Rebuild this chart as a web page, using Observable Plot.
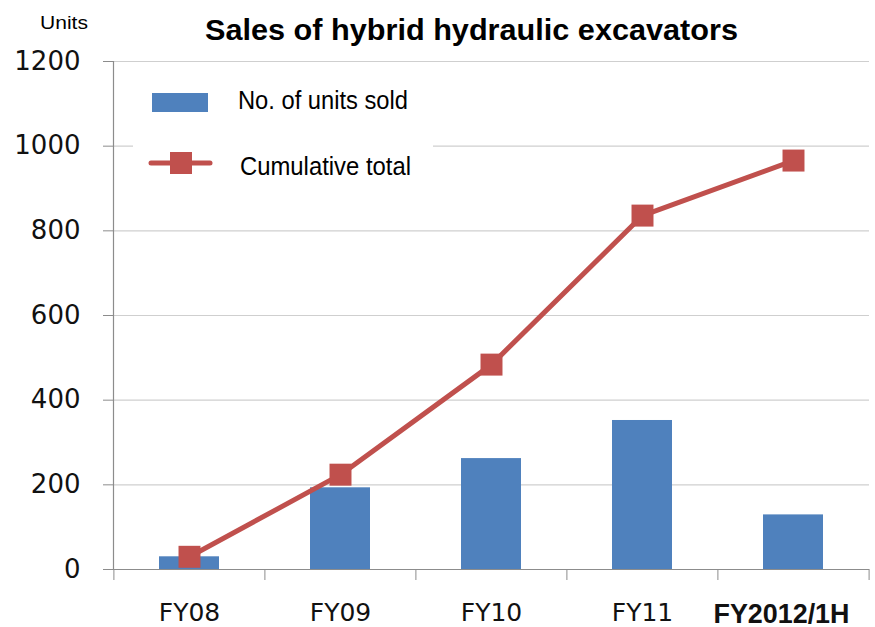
<!DOCTYPE html>
<html>
<head>
<meta charset="utf-8">
<script src="https://cdn.jsdelivr.net/npm/d3@7"></script>
<script src="https://cdn.jsdelivr.net/npm/@observablehq/plot@0.6"></script>
<style>
  html, body { margin: 0; padding: 0; background: #fff; }
  #chart { position: relative; width: 875px; height: 627px; }
</style>
</head>
<body>
<div id="chart"></div>
<script>
// ---- data ----
const categories = ["FY08", "FY09", "FY10", "FY11", "FY2012/1H"];
const unitsSold = [30, 193, 262, 352, 129];
const cumulativeTotal = [30, 224, 484, 836, 966];
const yTicks = [0, 200, 400, 600, 800, 1000, 1200];
const titleText = "Sales of hybrid hydraulic excavators";
const unitLabel = "Units";
const seriesNames = ["No. of units sold", "Cumulative total"];

const barColor = "#4F81BD";
const lineColor = "#C0504D";
const narrow = "'Liberation Sans Narrow', 'Liberation Sans', Arial, sans-serif";

const rows = categories.map((c, i) => ({cat: c, units: unitsSold[i], cum: cumulativeTotal[i]}));

const W = 875, H = 627, mL = 113, mR = 6, mT = 61, mB = 58;
const step = (W - mL - mR) / categories.length;

const plot = Plot.plot({
  width: W, height: H,
  marginLeft: mL, marginRight: mR, marginTop: mT, marginBottom: mB,
  style: {fontFamily: "'DejaVu Sans', sans-serif", fontSize: "26px", color: "#111", background: "white", overflow: "visible"},
  x: {domain: categories, paddingInner: 0.6, paddingOuter: 0.3, label: null, axis: null},
  y: {domain: [0, 1200], label: null, axis: null},
  marks: [
    Plot.gridY(yTicks, {stroke: "#cfcfcf", strokeOpacity: 1, strokeWidth: 1.2}),
    Plot.axisY(yTicks, {tickSize: 10, tickPadding: 23, stroke: "#8c8c8c", fontSize: 26, label: null, tickFormat: d => String(d)}),
    Plot.barY(rows, {x: "cat", y: "units", fill: barColor}),
    Plot.ruleY([0], {stroke: "#8c8c8c", strokeWidth: 1.2}),
    Plot.frame({anchor: "left", stroke: "#8c8c8c", strokeWidth: 1.2}),
    Plot.axisX({tickSize: 11, dx: -step / 2, tickFormat: () => "", stroke: "#8c8c8c", label: null}),
    Plot.axisX([categories[categories.length - 1]], {tickSize: 11, dx: step / 2, tickFormat: () => "", stroke: "#8c8c8c", label: null}),
    Plot.axisX({tickSize: 0, tickPadding: 34, fontSize: 25, label: null}),
    Plot.line(rows, {x: "cat", y: "cum", stroke: lineColor, strokeWidth: 5}),
    Plot.dot(rows, {x: "cat", y: "cum", symbol: "square", r: 12.4, fill: lineColor, stroke: null})
  ]
});

document.getElementById("chart").appendChild(plot);
const svg = d3.select(plot);

// make the last x label bold & narrow
svg.selectAll("text").filter(function() { return this.textContent === categories[categories.length - 1]; })
  .attr("font-weight", "bold")
  .attr("font-family", narrow)
  .attr("font-size", 27)
  .attr("dx", -12)
  .attr("textLength", 136)
  .attr("lengthAdjust", "spacingAndGlyphs");

// title & unit label
svg.append("text")
  .attr("x", 205).attr("y", 40).attr("text-anchor", "start")
  .attr("font-family", narrow).attr("font-weight", "bold").attr("font-size", 30)
  .attr("fill", "#000")
  .attr("textLength", 533).attr("lengthAdjust", "spacingAndGlyphs")
  .text(titleText);

svg.append("text")
  .attr("x", 40).attr("y", 29).attr("text-anchor", "start")
  .attr("font-family", narrow).attr("font-size", 19)
  .attr("fill", "#000")
  .attr("textLength", 48).attr("lengthAdjust", "spacingAndGlyphs")
  .text(unitLabel);

// legend
const lg = svg.append("g").attr("text-anchor", "start");
lg.append("rect").attr("x", 133).attr("y", 75).attr("width", 300).attr("height", 115).attr("fill", "#fff");
lg.append("rect").attr("x", 152).attr("y", 93).attr("width", 56).attr("height", 19).attr("fill", barColor);
lg.append("line").attr("x1", 151).attr("x2", 210).attr("y1", 163).attr("y2", 163)
  .attr("stroke", lineColor).attr("stroke-width", 5).attr("stroke-linecap", "round");
lg.append("rect").attr("x", 170).attr("y", 152).attr("width", 22).attr("height", 22).attr("fill", lineColor);
lg.append("text").attr("x", 238).attr("y", 109)
  .attr("font-family", narrow).attr("font-size", 26).attr("fill", "#000")
  .attr("textLength", 170).attr("lengthAdjust", "spacingAndGlyphs")
  .text(seriesNames[0]);
lg.append("text").attr("x", 240).attr("y", 175)
  .attr("font-family", narrow).attr("font-size", 26).attr("fill", "#000")
  .attr("textLength", 171).attr("lengthAdjust", "spacingAndGlyphs")
  .text(seriesNames[1]);
</script>
</body>
</html>
